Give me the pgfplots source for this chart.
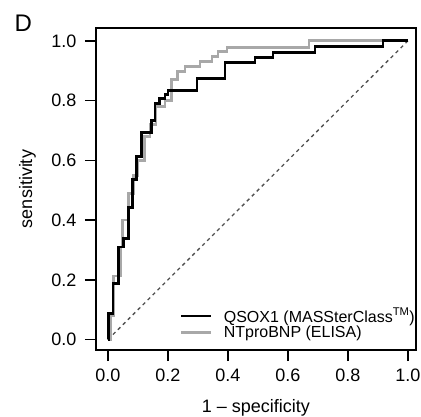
\documentclass[border=0pt]{standalone}
\usepackage{fontspec}
\setmainfont{Liberation Sans}
\usepackage{pgfplots}
\pgfplotsset{compat=1.18}
\definecolor{lgray}{RGB}{168,168,168}
\definecolor{dgray}{RGB}{80,80,80}
\begin{document}
\begin{tikzpicture}
\useasboundingbox (-96pt,-66pt) rectangle (325pt,350pt);
\begin{axis}[
  scale only axis, width=320pt, height=322pt,
  xmin=-0.04, xmax=1.027, ymin=-0.035, ymax=1.043,
  clip=false,
  axis line style={line width=1.6pt},
  tick align=outside, tick pos=left,
  major tick length=11pt,
  tick style={line width=1.6pt, black},
  xtick={0,0.2,0.4,0.6,0.8,1}, xticklabels={0.0,0.2,0.4,0.6,0.8,1.0},
  ytick={0,0.2,0.4,0.6,0.8,1}, yticklabels={0.0,0.2,0.4,0.6,0.8,1.0},
  tick label style={font=\fontsize{18}{20}\selectfont},
  yticklabel style={xshift=-5pt},
  xticklabel style={yshift=-4pt},
  xlabel={1 – specificity}, ylabel={sensitivity},
  label style={font=\fontsize{18}{20}\selectfont},
  xlabel style={at={(axis description cs:0.5,-0.193)}, anchor=base},
  ylabel style={at={(axis description cs:-0.214,0.5)}, anchor=center},
  legend style={draw=none, fill=none, at={(axis description cs:1,0)}, anchor=south east,
    xshift=0pt, yshift=10pt, inner sep=0pt,
    font=\fontsize{16}{18}\selectfont, nodes={inner sep=1pt}},
  legend cell align=left,
  legend image code/.code={\fill[draw=none] (0pt,-1.4pt) rectangle (30pt,1.4pt);},
]
\addplot[dgray, line width=1.3pt, dash pattern=on 3.5pt off 3.5pt, forget plot] coordinates {(0,0) (1,1)};
\addplot[lgray, line width=2.8pt, forget plot] coordinates {
(0,0) (0.01,0) (0.01,0.08) (0.018,0.08) (0.018,0.213) (0.043,0.213) (0.043,0.31) (0.048,0.31) (0.048,0.40)
(0.068,0.40) (0.068,0.49) (0.085,0.49) (0.085,0.55) (0.1,0.55) (0.1,0.60) (0.123,0.60) (0.123,0.68)
(0.14,0.68) (0.14,0.72) (0.16,0.72) (0.16,0.78) (0.19,0.78) (0.19,0.80) (0.213,0.80) (0.213,0.87)
(0.233,0.87) (0.233,0.897) (0.257,0.897) (0.257,0.913) (0.307,0.913) (0.307,0.93) (0.347,0.93)
(0.347,0.947) (0.367,0.947) (0.367,0.963) (0.397,0.963) (0.397,0.977) (0.67,0.977) (0.67,1) (1,1)};
\addplot[black, line width=2.8pt, forget plot] coordinates {
(0,0) (0.002,0) (0.002,0.087) (0.017,0.087) (0.017,0.187) (0.034,0.187) (0.034,0.31) (0.051,0.31) (0.051,0.337)
(0.068,0.337) (0.068,0.443) (0.081,0.443) (0.081,0.537) (0.096,0.537) (0.096,0.613) (0.112,0.613) (0.112,0.693)
(0.146,0.693) (0.146,0.733) (0.157,0.733) (0.157,0.79) (0.173,0.79) (0.173,0.807) (0.19,0.807) (0.19,0.82)
(0.2,0.82) (0.2,0.833) (0.297,0.833) (0.297,0.873) (0.39,0.873) (0.39,0.927) (0.49,0.927) (0.49,0.945)
(0.55,0.945) (0.55,0.962) (0.69,0.962) (0.69,0.98) (0.917,0.98) (0.917,1) (1,1)};
\addlegendimage{black, fill=black, line width=2.8pt}
\addlegendentry{\hspace*{12pt}QSOX1 (MASSterClass\textsuperscript{TM})}
\addlegendimage{lgray, fill=lgray, line width=2.8pt}
\addlegendentry{\hspace*{12pt}NTproBNP (ELISA)}
\node[anchor=base west, inner sep=0pt, font=\fontsize{24}{27}\selectfont] at (rel axis cs:-0.255,0.99) {D};
\end{axis}
\end{tikzpicture}
\end{document}
